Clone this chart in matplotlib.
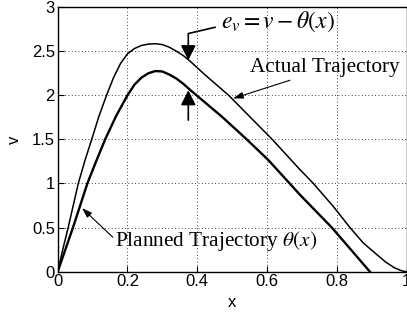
import numpy as np
import matplotlib
matplotlib.use("Agg")
from matplotlib import pyplot as plt

plt.rcParams['font.family'] = ['Liberation Sans', 'DejaVu Sans']
plt.rcParams['mathtext.fontset'] = 'stix'

# actual trajectory (upper curve)
x_act = [0, 0.015, 0.03, 0.045, 0.059, 0.078, 0.0975, 0.118, 0.14, 0.16, 0.18, 0.20,
         0.22, 0.24, 0.26, 0.28, 0.30, 0.32, 0.34, 0.36, 0.38, 0.42, 0.49, 0.55,
         0.615, 0.695, 0.733, 0.79, 0.838, 0.875, 0.91, 0.94, 0.965, 0.986, 1.0]
y_act = [0, 0.26, 0.5, 0.76, 1.0, 1.26, 1.5, 1.76, 2.0, 2.2, 2.36, 2.47,
         2.53, 2.565, 2.58, 2.585, 2.575, 2.545, 2.50, 2.45, 2.385, 2.24, 2.0, 1.76,
         1.5, 1.155, 1.0, 0.74, 0.5, 0.33, 0.21, 0.11, 0.045, 0.01, 0]

# planned trajectory theta(x) (lower curve)
x_plan = [0, 0.0437, 0.085, 0.11, 0.136, 0.168, 0.2, 0.22, 0.24, 0.26, 0.28, 0.30,
          0.32, 0.34, 0.36, 0.38, 0.398, 0.47, 0.542, 0.604, 0.695, 0.786, 0.895]
y_plan = [0, 0.5, 1.0, 1.25, 1.5, 1.77, 2.0, 2.12, 2.2, 2.25, 2.275, 2.27,
          2.235, 2.19, 2.13, 2.06, 2.0, 1.76, 1.5, 1.265, 0.87, 0.5, 0]

xticks = [0, 0.2, 0.4, 0.6, 0.8, 1]
yticks = [0, 0.5, 1, 1.5, 2, 2.5, 3]

fig = plt.figure(figsize=(4.07, 3.15), dpi=100)
ax = fig.add_axes([0.1418, 0.1375, 0.857, 0.840])

ax.plot(x_act, y_act, color='black', lw=1.1)
ax.plot(x_plan, y_plan, color='black', lw=1.7)

ax.set_xlim(0, 1)
ax.set_ylim(0, 3)
ax.set_xticks(xticks)
ax.set_yticks(yticks)
ax.set_xticklabels(['0', '0.2', '0.4', '0.6', '0.8', '1'])
ax.set_yticklabels(['0', '0.5', '1', '1.5', '2', '2.5', '3'])
ax.tick_params(direction='in', length=4, labelsize=12, pad=2)
ax.grid(True, color='black', linestyle=(0, (1, 3)), lw=0.6)
for s in ax.spines.values():
    s.set_linewidth(1.0)
ax.set_xlabel('x', fontsize=12, labelpad=4)
ax.set_ylabel('v', fontsize=12, labelpad=7)

serif = ['Liberation Serif', 'DejaVu Serif']

# error annotation
ax.text(0.467, 2.83, r'$e_v = v - \theta(x)$', fontsize=17, ha='left', va='center')
ax.plot([0.451, 0.3744, 0.3744], [2.771, 2.70, 2.50], color='black', lw=1.2)
ax.annotate('', xy=(0.3744, 2.397), xytext=(0.3744, 2.52),
            arrowprops=dict(arrowstyle='-|>,head_length=0.9,head_width=0.45',
                            color='black', lw=1.2, shrinkA=0, shrinkB=0))
ax.annotate('', xy=(0.3744, 2.058), xytext=(0.3744, 1.718),
            arrowprops=dict(arrowstyle='-|>,head_length=0.9,head_width=0.45',
                            color='black', lw=1.2, shrinkA=0, shrinkB=0))

ax.text(0.551, 2.318, 'Actual Trajectory', fontsize=15.3, family=serif,
        ha='left', va='center')
ax.annotate('', xy=(0.503, 1.964), xytext=(0.666, 2.171),
            arrowprops=dict(arrowstyle='-|>,head_length=0.6,head_width=0.2',
                            color='black', lw=0.8, shrinkA=0, shrinkB=0))

ax.text(0.1645, 0.348, r'Planned Trajectory $\theta(x)$', fontsize=15.3, family=serif,
        ha='left', va='center')
ax.annotate('', xy=(0.0697, 0.721), xytext=(0.158, 0.39),
            arrowprops=dict(arrowstyle='-|>,head_length=0.6,head_width=0.2',
                            color='black', lw=0.8, shrinkA=0, shrinkB=0))

fig.savefig('out.png', dpi=100)
